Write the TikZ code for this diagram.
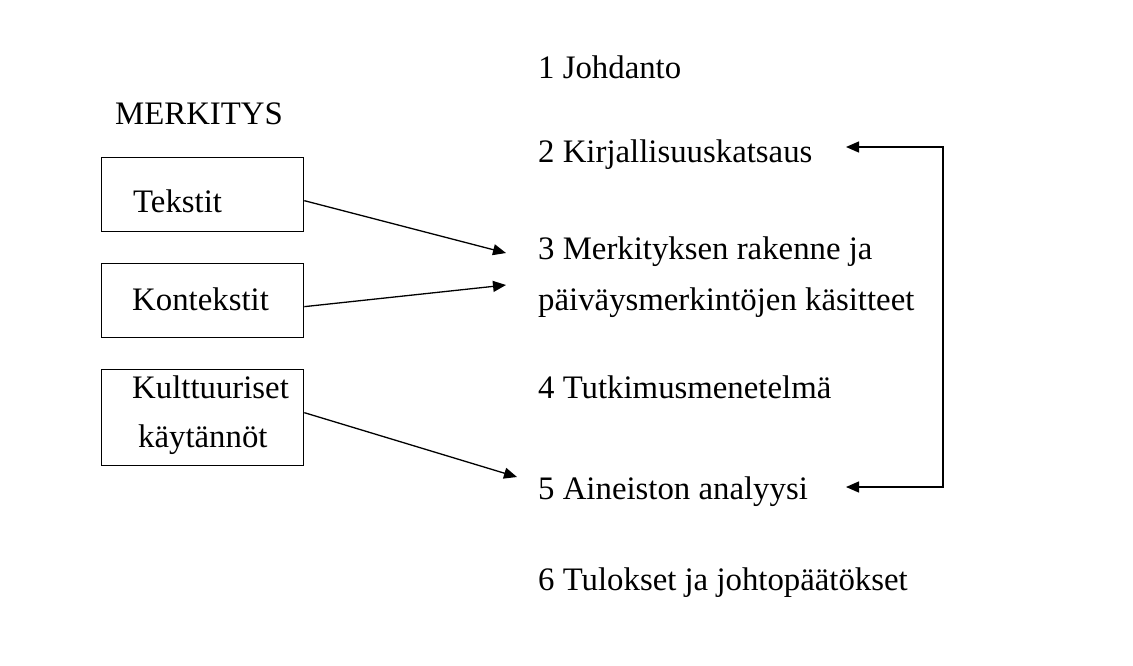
\documentclass[tikz,border=0pt]{standalone}
\usepackage{fontspec}
\setmainfont{Liberation Serif}
\usetikzlibrary{arrows.meta, positioning}

\begin{document}
\begin{tikzpicture}[x=1pt, y=-1pt,
  txt/.style={anchor=base west, inner sep=0pt, font=\fontsize{32.8}{38}\selectfont},
  box/.style={draw, line width=1.3pt, anchor=north west, minimum width=202, minimum height=74, inner sep=0pt},
  tip/.style={Triangle[length=13pt, width=11pt]},
  link/.style={-{Triangle[length=13pt, width=11pt]}, line width=1.3pt},
]
  \useasboundingbox (0,0) rectangle (1133,665);
  % left: boxes with their labels
  \node[txt] (merk) at (115,124) {MERKITYS};
  \node[box] (bTek) at (101,157) {};
  \node[box] (bKon) at (101,263) {};
  \node[box, minimum height=96] (bKul) at (101,369) {};
  \node[txt] (tTek) at (133,212) {Tekstit};
  \node[txt] (tKon) at (132,310) {Kontekstit};
  \node[txt] (tKul) at (132,398) {Kulttuuriset};
  \node[txt] (tKay) at (138,447) {käytännöt};
  % right: chapters
  \node[txt] (c1) at (538,78) {1 Johdanto};
  \node[txt] (c2) at (538,162) {2 Kirjallisuuskatsaus};
  \node[txt] (c3a) at (538,259) {3 Merkityksen rakenne ja};
  \node[txt] (c3b) at (538,310) {päiväysmerkintöjen käsitteet};
  \node[txt] (c4) at (538,398) {4 Tutkimusmenetelmä};
  \node[txt] (c5) at (538,499) {5 Aineiston analyysi};
  \node[txt] (c6) at (538,590) {6 Tulokset ja johtopäätökset};
  % arrow ends
  \coordinate (e1) at (506,253);
  \coordinate (e2) at (506,285);
  \coordinate (e3) at (517,477);
  \coordinate (k2) at (846,147);
  \coordinate (k5) at (846,487);
  \coordinate (bx) at (943,0);
  \draw[link] ([yshift=-6]bTek.east) -- (e1);
  \draw[link] ([yshift=-6]bKon.east) -- (e2);
  \draw[link] ([yshift=5]bKul.east) -- (e3);
  % feedback bracket
  \draw[link, {Triangle[length=13pt, width=11pt]}-{Triangle[length=13pt, width=11pt]}]
    (k2) -- (k2 -| bx) -- (k5 -| bx) -- (k5);
\end{tikzpicture}
\end{document}
